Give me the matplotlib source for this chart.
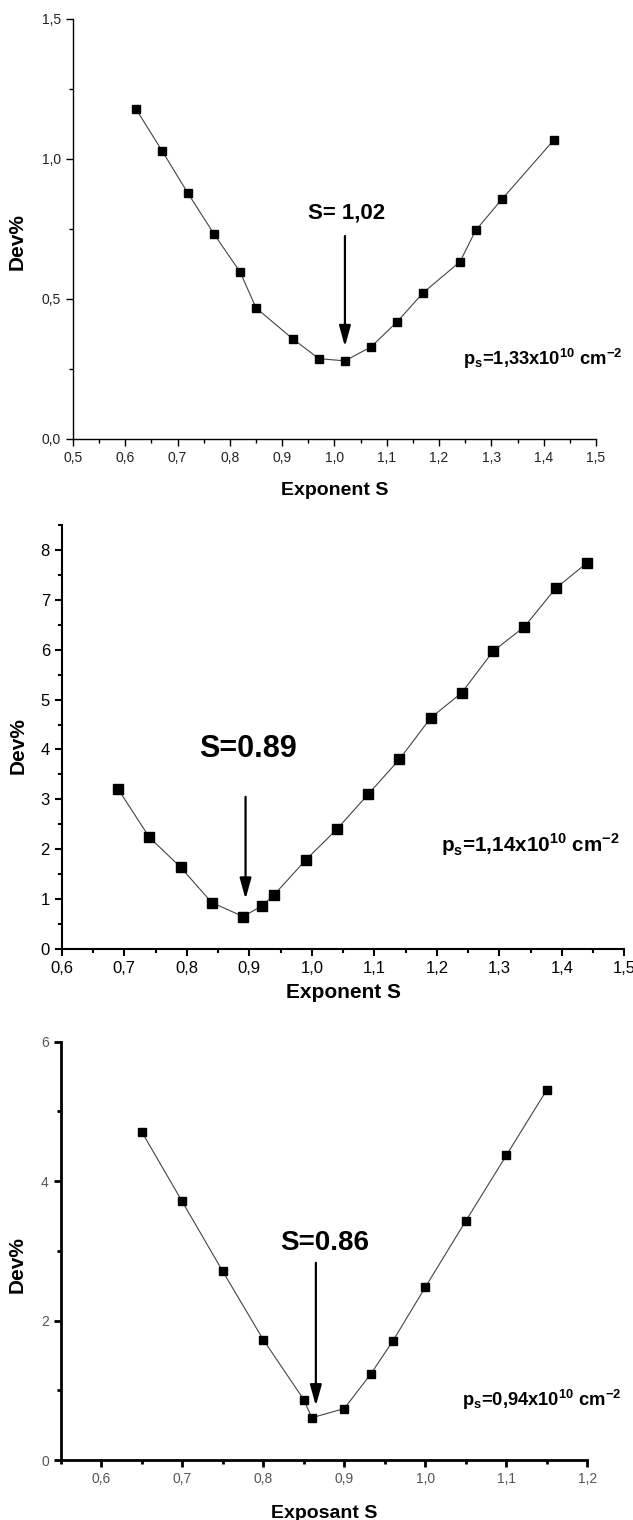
import matplotlib
matplotlib.use('Agg')
import matplotlib.pyplot as plt
import matplotlib.ticker as ticker
from matplotlib import font_manager

plt.rcParams['font.family'] = ['Liberation Sans', 'DejaVu Sans']

# condensed face for the p_s labels, if there is one
names = set(f.name for f in font_manager.fontManager.ttflist)
if 'Liberation Sans Narrow' in names:
    narrow, nscale = 'Liberation Sans Narrow', 1.0
else:
    narrow, nscale = 'Liberation Sans', 0.78

# panel 1 : p_s = 1,33e10
s1 = [0.62, 0.67, 0.72, 0.77, 0.82, 0.85, 0.92, 0.97, 1.02, 1.07, 1.12, 1.17, 1.24, 1.27, 1.32, 1.42]
dev1 = [1.18, 1.03, 0.877, 0.731, 0.595, 0.468, 0.358, 0.287, 0.279, 0.329, 0.419, 0.523, 0.633, 0.745, 0.856, 1.069]

# panel 2 : p_s = 1,14e10
s2 = [0.69, 0.74, 0.79, 0.84, 0.89, 0.92, 0.94, 0.99, 1.04, 1.09, 1.14, 1.19, 1.24, 1.29, 1.34, 1.39, 1.44]
dev2 = [3.21, 2.24, 1.64, 0.93, 0.65, 0.86, 1.09, 1.78, 2.40, 3.10, 3.80, 4.63, 5.14, 5.97, 6.46, 7.23, 7.74]

# panel 3 : p_s = 0,94e10
s3 = [0.65, 0.70, 0.75, 0.80, 0.85, 0.86, 0.90, 0.933, 0.96, 1.00, 1.05, 1.10, 1.15]
dev3 = [4.71, 3.71, 2.71, 1.73, 0.87, 0.61, 0.74, 1.24, 1.71, 2.48, 3.43, 4.37, 5.31]

ps_labels = ['1,33', '1,14', '0,94']


def comma(v, pos):
    return ('%.1f' % v).replace('.', ',')


def ps_text(val):
    return r'p$_{\mathdefault{s}}$=' + val + r'x10$^{\mathdefault{10}}$ cm$^{\mathdefault{-2}}$'


def setup(ax, lw, tcolor, tsize):
    ax.spines['top'].set_visible(False)
    ax.spines['right'].set_visible(False)
    ax.spines['left'].set_linewidth(lw)
    ax.spines['bottom'].set_linewidth(lw)
    ax.tick_params(which='major', direction='out', length=5, width=lw,
                   labelsize=tsize, labelcolor=tcolor)
    ax.tick_params(which='minor', direction='out', length=3, width=lw)
    ax.xaxis.set_major_formatter(ticker.FuncFormatter(comma))


arrow = dict(arrowstyle='-|>,head_length=0.9,head_width=0.25', lw=1.6, color='k',
             mutation_scale=14, shrinkA=0, shrinkB=0)

fig = plt.figure(figsize=(6.33, 15.2), dpi=100)

# 1
ax1 = fig.add_axes([0.1153, 0.7112, 0.8262, 0.2763])
ax1.plot(s1, dev1, '-s', color='#444444', lw=0.8, mfc='k', mec='k', ms=6.3)
ax1.set_xlim(0.5, 1.5)
ax1.set_ylim(0, 1.5)
ax1.xaxis.set_major_locator(ticker.MultipleLocator(0.1))
ax1.xaxis.set_minor_locator(ticker.MultipleLocator(0.05))
ax1.yaxis.set_major_locator(ticker.MultipleLocator(0.5))
ax1.yaxis.set_minor_locator(ticker.MultipleLocator(0.25))
setup(ax1, 1.0, '#222222', 10)
ax1.yaxis.set_major_formatter(ticker.FuncFormatter(comma))
ax1.set_xlabel('Exponent S', fontsize=14, fontweight='bold')
ax1.set_ylabel('Dev%', fontsize=15, fontweight='bold')
ax1.xaxis.set_label_coords(0.5, -0.102)
ax1.yaxis.set_label_coords(-0.088, 0.47)
ax1.text(1.023, 0.807, 'S= 1,02', fontsize=16, fontweight='bold', ha='center', va='center')
ax1.annotate('', xy=(1.02, 0.33), xytext=(1.02, 0.725), arrowprops=arrow)
ax1.text(1.245, 0.286, ps_text(ps_labels[0]), fontsize=17 * nscale, fontweight='bold',
         family=narrow, ha='left', va='center')

# 2
ax2 = fig.add_axes([0.0975, 0.3757, 0.889, 0.2789])
ax2.plot(s2, dev2, '-s', color='#444444', lw=0.8, mfc='k', mec='k', ms=6.5)
ax2.set_xlim(0.6, 1.5)
ax2.set_ylim(0, 8.5)
ax2.xaxis.set_major_locator(ticker.MultipleLocator(0.1))
ax2.xaxis.set_minor_locator(ticker.MultipleLocator(0.05))
ax2.yaxis.set_major_locator(ticker.MultipleLocator(1))
ax2.yaxis.set_minor_locator(ticker.MultipleLocator(0.5))
setup(ax2, 1.5, 'k', 12)
ax2.set_xlabel('Exponent S', fontsize=15, fontweight='bold')
ax2.set_ylabel('Dev%', fontsize=15, fontweight='bold')
ax2.xaxis.set_label_coords(0.5, -0.080)
ax2.yaxis.set_label_coords(-0.060, 0.48)
ax2.text(0.898, 4.0, 'S=0.89', fontsize=22, fontweight='bold', ha='center', va='center')
ax2.annotate('', xy=(0.894, 1.0), xytext=(0.894, 3.05), arrowprops=arrow)
ax2.text(1.206, 2.08, ps_text(ps_labels[1]), fontsize=19 * nscale, fontweight='bold',
         family=narrow, ha='left', va='center')

# 3
ax3 = fig.add_axes([0.0957, 0.0393, 0.8322, 0.2754])
ax3.plot(s3, dev3, '-s', color='#444444', lw=0.8, mfc='k', mec='k', ms=6.3)
ax3.set_xlim(0.55, 1.2)
ax3.set_ylim(0, 6)
ax3.xaxis.set_major_locator(ticker.MultipleLocator(0.1))
ax3.xaxis.set_minor_locator(ticker.MultipleLocator(0.05))
ax3.yaxis.set_major_locator(ticker.MultipleLocator(2))
ax3.yaxis.set_minor_locator(ticker.MultipleLocator(1))
setup(ax3, 2.0, '#555555', 10)
ax3.set_xlabel('Exposant S', fontsize=14, fontweight='bold')
ax3.set_ylabel('Dev%', fontsize=15, fontweight='bold')
ax3.xaxis.set_label_coords(0.5, -0.107)
ax3.yaxis.set_label_coords(-0.064, 0.467)
ax3.text(0.876, 3.12, 'S=0.86', fontsize=20, fontweight='bold', ha='center', va='center')
ax3.annotate('', xy=(0.865, 0.78), xytext=(0.865, 2.83), arrowprops=arrow)
ax3.text(1.045, 0.86, ps_text(ps_labels[2]), fontsize=17 * nscale, fontweight='bold',
         family=narrow, ha='left', va='center')

fig.savefig('out.png', dpi=100)
